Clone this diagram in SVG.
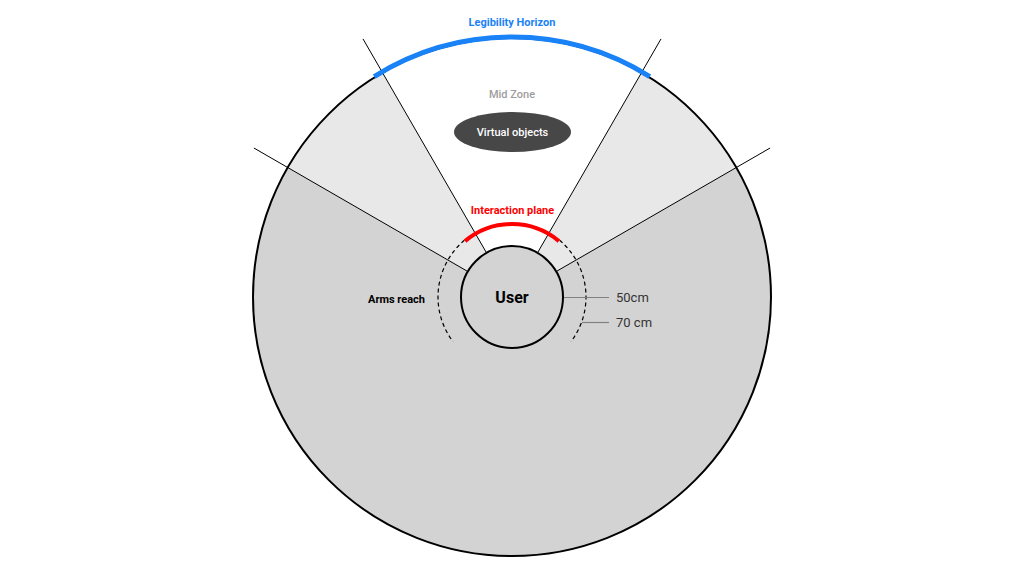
<svg xmlns="http://www.w3.org/2000/svg" width="1024" height="576" viewBox="0 0 1024 576">
<style>
text{font-family:Roboto,"Liberation Sans",sans-serif}
.ray{stroke:#000;stroke-width:1;fill:none}
.dash{stroke:#000;stroke-width:1.2;fill:none;stroke-dasharray:4 3}
.tick{stroke:#808080;stroke-width:1.2}
.lbl{font-size:11px;font-weight:700;text-anchor:middle}
.cm{font-size:13px;fill:#333}
</style>
<rect width="1024" height="576" fill="#fff"/>
<g id="field">
<circle cx="512" cy="297" r="259" fill="#d3d3d3"/>
<path d="M512,297 L287.7,167.5 A259,259 0 0 1 736.3,167.5 Z" fill="#e8e8e8"/>
<path d="M512,297 L382.5,72.7 A259,259 0 0 1 641.5,72.7 Z" fill="#fff"/>
<circle cx="512" cy="297" r="259" fill="none" stroke="#000" stroke-width="2"/>
</g>
<g id="connectors">
<line class="ray" x1="486.5" y1="252.8" x2="363" y2="38.9"/>
<line class="ray" x1="537.5" y1="252.8" x2="661" y2="38.9"/>
<line class="ray" x1="467.8" y1="271.5" x2="253.9" y2="148"/>
<line class="ray" x1="556.2" y1="271.5" x2="770.1" y2="148"/>
<path class="dash" d="M464.4,240.3 A74,74 0 0 0 452.9,341.5"/>
<path class="dash" d="M559.6,240.3 A74,74 0 0 1 571.1,341.5"/>
<line class="tick" x1="563" y1="297.5" x2="609" y2="297.5"/>
<line class="tick" x1="582" y1="322.5" x2="609" y2="322.5"/>
</g>
<g id="legibility-horizon">
<path d="M374.2,76.6 A260,260 0 0 1 649.8,76.6" fill="none" stroke="#1a82f7" stroke-width="5"/>
<text class="lbl" x="512" y="26" fill="#1a82f7">Legibility Horizon</text>
</g>
<g id="mid-zone">
<text x="512" y="98" font-size="11" font-weight="500" fill="#9e9e9e" text-anchor="middle">Mid Zone</text>
</g>
<g id="virtual-objects">
<ellipse cx="512.5" cy="132" rx="58.5" ry="20" fill="#474747"/>
<text x="512.5" y="135.5" font-size="11" font-weight="500" fill="#fff" text-anchor="middle">Virtual objects</text>
</g>
<g id="interaction-plane">
<path d="M465.1,241.1 A73,73 0 0 1 558.9,241.1" fill="none" stroke="#f00" stroke-width="4"/>
<text class="lbl" x="512.5" y="213.5" fill="#f00">Interaction plane</text>
</g>
<g id="user">
<circle cx="512" cy="297" r="51" fill="#d3d3d3" stroke="#000" stroke-width="2"/>
<text x="512" y="302.5" font-size="16" font-weight="700" fill="#000" text-anchor="middle">User</text>
</g>
<g id="arms-reach">
<text x="425" y="303" font-size="11" font-weight="700" fill="#000" text-anchor="end">Arms reach</text>
</g>
<g id="distances">
<text class="cm" x="616" y="301.5">50cm</text>
<text class="cm" x="616" y="327">70 cm</text>
</g>
</svg>
